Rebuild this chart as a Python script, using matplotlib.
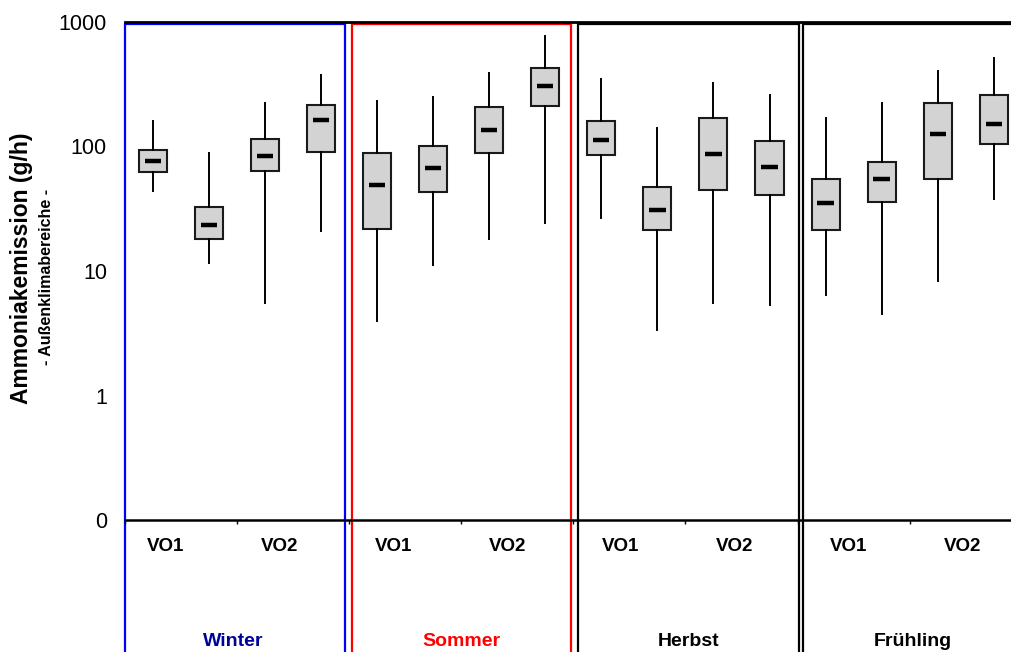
import matplotlib
matplotlib.use("Agg")
import matplotlib.pyplot as plt
import numpy as np
from matplotlib.patches import Rectangle
from matplotlib.transforms import blended_transform_factory

plt.rcParams["font.family"] = ["Liberation Sans", "DejaVu Sans"]

# ============================================================
# DATA (g/h)
# ============================================================

seasons = ["Winter", "Sommer", "Herbst", "Frühling"]
groups = ["VO1", "VO2"]

# 16 boxes, 4 per season (2 per VO group)
whis_hi = [159, 88, 222, 377, 233, 248, 392, 772, 346, 141, 326, 261, 168, 222, 402, 517]
q3 = [93.7, 32.9, 115, 217, 89.3, 101.6, 209, 430, 159, 47.5, 169, 111, 55.2, 75.1, 225, 261]
med = [76.5, 23.6, 83.4, 162, 49.1, 67.6, 136, 308, 112, 30.9, 87.5, 68.4, 35.0, 54.5, 125, 153]
q1 = [62.8, 18.1, 63.6, 90.3, 21.7, 42.9, 89.3, 210, 85.5, 21.3, 44.7, 40.8, 21.5, 35.8, 55.2, 105]
whis_lo = [44.0, 11.5, 5.5, 21.1, 4.0, 11.1, 18.2, 24.2, 26.8, 3.36, 5.53, 5.3, 6.45, 4.49, 8.36, 37.7]

ytick_vals = [0.1, 1, 10, 100, 1000]
ytick_labels = ["0", "1", "10", "100", "1000"]

# ============================================================
# STYLE / LAYOUT
# ============================================================

frame_colors = ["#0000FF", "#FF0000", "black", "black"]
title_colors = ["#000099", "#FF0000", "black", "black"]
frame_x = [(0.0, 3.93), (4.05, 7.96), (8.09, 12.02), (12.09, 17.0)]
season_x = [1.93, 6.0, 10.06, 14.05]
vo_x = 0.73 + 2.03 * np.arange(8)

W, H = 1012, 652

fig = plt.figure(figsize=(W / 100, H / 100), dpi=100)
ax = fig.add_axes([125 / W, 1 - 520 / H, (1021.7 - 125) / W, 498 / H])

stats = []
for i in range(len(med)):
    stats.append(dict(med=med[i], q1=q1[i], q3=q3[i],
                      whislo=whis_lo[i], whishi=whis_hi[i], fliers=[]))

pos = np.arange(len(med)) + 0.5

ax.bxp(stats, positions=pos, widths=0.5, patch_artist=True, showcaps=False,
       showfliers=False,
       boxprops=dict(facecolor="#d3d3d3", edgecolor="#1a1a1a", linewidth=1.5),
       whiskerprops=dict(color="black", linewidth=1.4),
       medianprops=dict(visible=False))

ax.hlines(med, pos - 0.145, pos + 0.145, colors="black", linewidth=3.2,
          capstyle="butt", zorder=5)

ax.set_yscale("log")
ax.set_ylim(0.1, 1000)
ax.set_xlim(0, 16)
ax.set_yticks(ytick_vals)
ax.set_yticklabels(ytick_labels)
ax.yaxis.set_minor_locator(matplotlib.ticker.NullLocator())
ax.tick_params(axis="y", length=0, pad=13, labelsize=15.5)
ax.set_xticks(np.arange(0, 17, 2))
ax.set_xticklabels([])
ax.tick_params(axis="x", length=3, width=1, direction="out", color="black")

ax.spines["left"].set_visible(False)
ax.spines["right"].set_visible(False)
ax.spines["top"].set_linewidth(2.0)
ax.spines["bottom"].set_linewidth(1.8)

trans = blended_transform_factory(ax.transData, ax.transAxes)

# season frames
for (x0, x1), c in zip(frame_x, frame_colors):
    r = Rectangle((x0, -0.4), x1 - x0, 0.4 + 0.996, fill=False, edgecolor=c,
                  linewidth=1.6, transform=trans, clip_on=False, zorder=1)
    ax.add_patch(r)

for k, x in enumerate(vo_x):
    ax.text(x, -0.054, groups[k % 2], transform=trans, ha="center", va="center",
            fontsize=13.5, fontweight="bold")

for s, x, c in zip(seasons, season_x, title_colors):
    ax.text(x, -0.243, s, transform=trans, ha="center", va="center",
            fontsize=14, fontweight="bold", color=c)

fig.text(22 / W, 1 - 268 / H, "Ammoniakemission (g/h)", rotation=90,
         ha="center", va="center", fontsize=16.5, fontweight="bold")
fig.text(47 / W, 1 - 277 / H, "- Außenklimabereiche -", rotation=90,
         ha="center", va="center", fontsize=11.5, fontweight="bold")

fig.savefig("out.png", dpi=100)
